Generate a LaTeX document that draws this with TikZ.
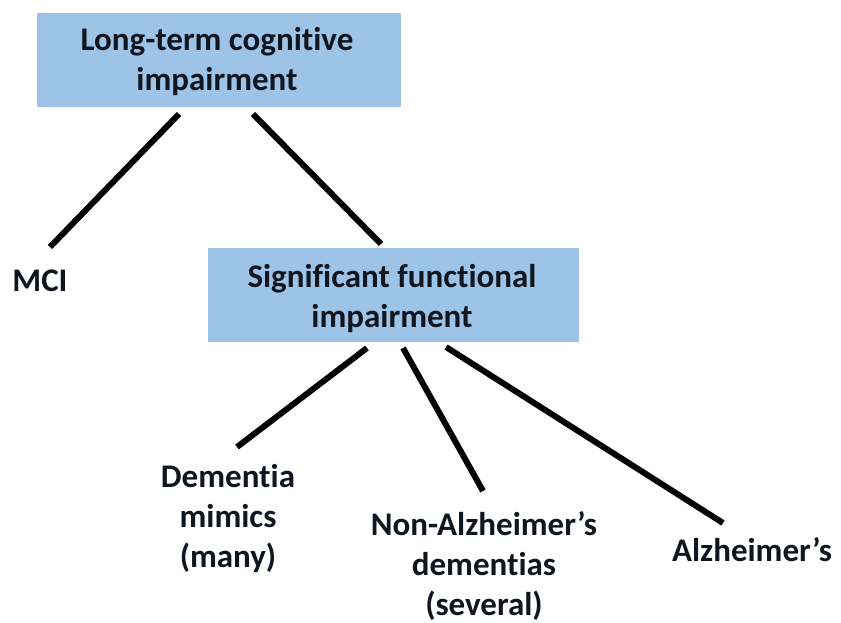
\documentclass[tikz,border=0pt]{standalone}
\usepackage{fontspec}
\setmainfont[Ligatures=NoCommon]{Carlito}
\definecolor{boxblue}{HTML}{9DC3E6}
\definecolor{txt}{HTML}{10161F}
\begin{document}
\begin{tikzpicture}[x=1pt,y=-1pt,
  every node/.style={font=\fontsize{33}{40}\selectfont\bfseries, text=txt, align=center, inner sep=0pt},
  bluebox/.style={fill=boxblue, draw=none},
  link/.style={line width=6pt, black}]
\path[use as bounding box] (0,0) rectangle (841,623);
\fill[white] (0,0) rectangle (841,623);
% boxes
\node[bluebox, minimum width=364pt, minimum height=94pt] (top) at (219,60) {};
\node (toptext) at (217,62) {Long-term cognitive\\impairment};
\node[bluebox, minimum width=371pt, minimum height=94pt] (sfi) at (393.5,295) {};
\node (sfitext) at (392,299) {Significant functional\\impairment};
% labels
\node (mci) at (40,281) {MCI};
\node (mimics) at (228,519) {Dementia\\mimics\\(many)};
\node (nonalz) at (484,566) {Non-Alzheimer’s\\dementias\\(several)};
\node (alz) at (752,550) {Alzheimer’s};
% connector ends
\coordinate (a1) at (179,114); \coordinate (a2) at (50,247);
\coordinate (b1) at (253,114); \coordinate (b2) at (381,244);
\coordinate (c1) at (367,348); \coordinate (c2) at (237,447);
\coordinate (d1) at (403,348); \coordinate (d2) at (483,491);
\coordinate (e1) at (446,347); \coordinate (e2) at (723,523);
\draw[link] (a1) -- (a2);
\draw[link] (b1) -- (b2);
\draw[link] (c1) -- (c2);
\draw[link] (d1) -- (d2);
\draw[link] (e1) -- (e2);
\end{tikzpicture}
\end{document}
